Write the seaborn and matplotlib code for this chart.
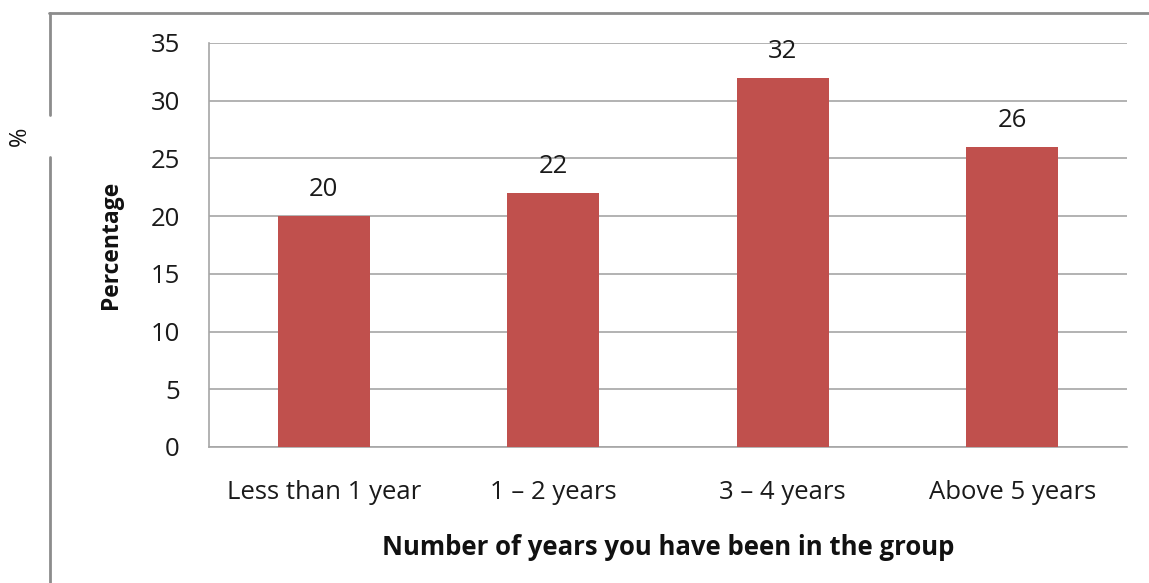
import matplotlib
matplotlib.use("Agg")
import matplotlib.pyplot as plt
import seaborn as sns
import pandas as pd
from matplotlib.lines import Line2D

# data
categories = ["Less than 1 year", "1 \u2013 2 years", "3 \u2013 4 years", "Above 5 years"]
percentages = [20, 22, 32, 26]
y_ticks = [0, 5, 10, 15, 20, 25, 30, 35]

df = pd.DataFrame({"years": categories, "pct": percentages})

sns.set_theme(style="white")
plt.rcParams['font.family'] = ['Open Sans', 'DejaVu Sans']

fig = plt.figure(figsize=(11.49, 5.83), dpi=100)
ax = fig.add_axes([0.1819, 0.2333, 0.799, 0.693])

sns.barplot(data=df, x="years", y="pct", color="#C0504D", width=0.40,
            saturation=1, linewidth=0, ax=ax, zorder=3)

ax.set_ylim(0, 35)
ax.set_yticks(y_ticks)
ax.set_xlim(-0.5, 3.5)
ax.grid(axis="y", color="#a6a6a6", linewidth=1.2, zorder=0)
ax.set_axisbelow(True)
for s in ["top", "right"]:
    ax.spines[s].set_visible(False)
for s in ["left", "bottom"]:
    ax.spines[s].set_color("#a6a6a6")
    ax.spines[s].set_linewidth(1.2)
ax.tick_params(axis="both", length=0, labelsize=18.5, colors="#1a1a1a")
ax.tick_params(axis="y", pad=21)
ax.tick_params(axis="x", pad=24)

for i, v in enumerate(percentages):
    ax.annotate(str(v), (i, v), xytext=(0, 10), textcoords="offset points",
                ha="center", va="bottom", fontsize=18.5, color="#1a1a1a")

ax.set_xlabel("Number of years you have been in the group", fontsize=18.5,
              fontweight="bold", labelpad=21, color="#111111")
ax.set_ylabel("Percentage", fontsize=16.5, fontweight="bold", labelpad=20,
              color="#111111")

# outer frame with the "%" mark
W, H = 1149, 583
def px(x, y):
    return x / W, 1 - y / H
frame_kw = dict(color="#8c8c8c", linewidth=2, transform=fig.transFigure)
x0, y0 = px(49, 13)
x1, _ = px(1149, 13)
fig.add_artist(Line2D([x0, x1], [y0, y0], **frame_kw))
fig.add_artist(Line2D([px(50, 0)[0]] * 2, [px(0, 13)[1], px(0, 115)[1]], **frame_kw))
fig.add_artist(Line2D([px(50, 0)[0]] * 2, [px(0, 157)[1], px(0, 583)[1]], **frame_kw))
fig.text(*px(20, 136), "%", rotation=90, ha="center", va="center", fontsize=17,
         color="#111111")

fig.savefig("out.png", dpi=100)
